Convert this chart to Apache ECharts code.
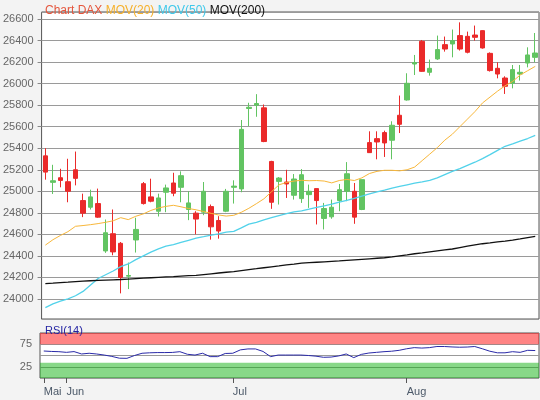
<!DOCTYPE html>
<html>
<head>
<meta charset="utf-8">
<title>Chart DAX</title>
<script src="https://cdn.jsdelivr.net/npm/echarts@6/dist/echarts.min.js"></script>
<style>
  html, body { margin: 0; padding: 0; background: #f3f3f3; }
  #chart { width: 540px; height: 400px; }
</style>
</head>
<body>
<div id="chart"></div>
<script>
// Handelstage 27.05. - 26.08.
const dates = [
  '2026-05-27', '2026-05-28', '2026-05-29',
  '2026-06-01', '2026-06-02', '2026-06-03', '2026-06-04', '2026-06-05',
  '2026-06-08', '2026-06-09', '2026-06-10', '2026-06-11', '2026-06-12',
  '2026-06-15', '2026-06-16', '2026-06-17', '2026-06-18', '2026-06-19',
  '2026-06-22', '2026-06-23', '2026-06-24', '2026-06-25', '2026-06-26',
  '2026-06-29', '2026-06-30',
  '2026-07-01', '2026-07-02', '2026-07-03',
  '2026-07-06', '2026-07-07', '2026-07-08', '2026-07-09', '2026-07-10',
  '2026-07-13', '2026-07-14', '2026-07-15', '2026-07-16', '2026-07-17',
  '2026-07-20', '2026-07-21', '2026-07-22', '2026-07-23', '2026-07-24',
  '2026-07-27', '2026-07-28', '2026-07-29', '2026-07-30', '2026-07-31',
  '2026-08-03', '2026-08-04', '2026-08-05', '2026-08-06', '2026-08-07',
  '2026-08-10', '2026-08-11', '2026-08-12', '2026-08-13', '2026-08-14',
  '2026-08-17', '2026-08-18', '2026-08-19', '2026-08-20', '2026-08-21',
  '2026-08-24', '2026-08-25', '2026-08-26'
];

const openVals = [
  25329, 25083, 25126, 25089, 25200, 24914, 24852, 24886, 24446, 24606,
  24517, 24212, 24548, 25071, 24948, 24815, 24991, 25077, 25037, 24831,
  24797, 24806, 24858, 24729, 24815, 25037, 25022, 25769, 25800, 25775,
  25277, 25092, 25086, 24963, 24932, 24969, 25025, 24748, 24763, 24914,
  25000, 25000, 24831, 25452, 25489, 25545, 25474, 25706, 25848, 26182,
  26393, 26105, 26229, 26362, 26368, 26446, 26439, 26451, 26492, 26281,
  26142, 26052, 26003, 26089, 26191, 26244
];
const closeVals = [
  25178, 25098, 25101, 25000, 25120, 24797, 24948, 24760, 24615, 24437,
  24200, 24218, 24646, 24886, 24908, 24938, 25031, 24982, 25145, 24892,
  24742, 25000, 24670, 24631, 25000, 25048, 25575, 25780, 25815, 25462,
  24898, 25123, 25068, 25114, 25154, 25000, 24914, 24840, 24852, 25015,
  25163, 24760, 25108, 25359, 25458, 25449, 25613, 25622, 26003, 26195,
  26114, 26142, 26316, 26321, 26399, 26321, 26291, 26430, 26331, 26121,
  26089, 25975, 26130, 26105, 26266, 26284
];
const lowVals = [
  25108, 24975, 25037, 24898, 25055, 24760, 24831, 24754, 24428, 24406,
  24052, 24092, 24431, 24877, 24898, 24766, 24806, 24954, 24898, 24732,
  24600, 24778, 24551, 24560, 24806, 24886, 24991, 25606, 25692, 25456,
  24837, 24877, 24938, 24923, 24892, 24846, 24692, 24646, 24745, 24815,
  24908, 24698, 24825, 25356, 25297, 25319, 25297, 25541, 25842, 26080,
  26110, 26074, 26220, 26297, 26244, 26307, 26281, 26399, 26325, 26112,
  26049, 25904, 25956, 26028, 26151, 26198
];
const highVals = [
  25400, 25246, 25209, 25302, 25369, 24978, 25015, 25025, 24738, 24831,
  24529, 24338, 24754, 25086, 25117, 24978, 25062, 25172, 25185, 25000,
  24815, 25086, 24877, 24769, 25022, 25102, 25662, 25822, 25902, 25806,
  25283, 25132, 25200, 25160, 25206, 25062, 25025, 24892, 24923, 25068,
  25271, 25077, 25108, 25557, 25557, 25563, 25650, 25889, 26096, 26266,
  26405, 26223, 26446, 26437, 26502, 26569, 26483, 26539, 26495, 26290,
  26198, 26068, 26173, 26173, 26337, 26470
];

const ma20 = [
  24500, 24550, 24590, 24625, 24675, 24682, 24690, 24700, 24712, 24726,
  24755, 24737, 24768, 24790, 24822, 24845, 24860, 24870, 24856, 24840,
  24828, 24812, 24795, 24780, 24770, 24777, 24805, 24842, 24885, 24930,
  24995, 25060, 25082, 25095, 25102, 25098, 25100, 25095, 25078, 25100,
  25110, 25100, 25125, 25165, 25185, 25195, 25195, 25190, 25200, 25225,
  25285, 25345, 25405, 25475, 25530, 25600, 25670, 25740, 25820, 25875,
  25930, 25980, 26020, 26080, 26120, 26160
];
const ma50 = [
  23920, 23955, 23980, 24000, 24030, 24070, 24130, 24190, 24225, 24260,
  24300, 24325, 24365, 24400, 24435, 24465, 24490, 24505, 24525, 24545,
  24565, 24578, 24592, 24605, 24620, 24628, 24660, 24695, 24712, 24735,
  24755, 24775, 24792, 24808, 24818, 24835, 24850, 24865, 24880, 24900,
  24915, 24935, 24955, 24975, 24995, 25010, 25030, 25045, 25060, 25075,
  25088, 25102, 25125, 25155, 25185, 25210, 25240, 25270, 25304, 25340,
  25380, 25418, 25440, 25465, 25490, 25520
];
const ma200 = [
  24143, 24147, 24152, 24156, 24161, 24166, 24169, 24172, 24175, 24178,
  24181, 24185, 24189, 24193, 24197, 24201, 24205, 24208, 24212, 24216,
  24220, 24227, 24234, 24241, 24248, 24254, 24263, 24272, 24281, 24290,
  24299, 24307, 24316, 24324, 24333, 24337, 24341, 24345, 24349, 24353,
  24358, 24363, 24368, 24373, 24378, 24383, 24391, 24401, 24410, 24420,
  24428, 24437, 24446, 24455, 24464, 24477, 24490, 24503, 24513, 24521,
  24530, 24538, 24547, 24558, 24570, 24582
];
const rsi14 = [
  60, 59, 58.5, 57, 58.7, 53.4, 55, 53.3, 51, 48,
  44, 43.7, 50, 55, 56, 56.5, 56.5, 56.8, 58.5, 52.7,
  51, 55, 47.5, 47.5, 54.5, 55, 62.5, 64.6, 64.6, 59,
  47.5, 51, 51, 51, 51, 50, 48.5, 46, 46.5, 49,
  53.4, 45.3, 52.5, 55.5, 57, 58.5, 59.5, 61.5, 65, 67.5,
  66.5, 67.5, 70, 70, 69, 68.4, 68.8, 70, 65, 59.5,
  56, 56, 58.5, 57, 61.5, 61
];

const monthNames = { '05': 'Mai', '06': 'Jun', '07': 'Jul', '08': 'Aug' };

const candles = dates.map((d, i) => [openVals[i], closeVals[i], lowVals[i], highVals[i]]);
const isMonthStart = (i) => i === 0 || dates[i].slice(5, 7) !== dates[i - 1].slice(5, 7);

const chart = echarts.init(document.getElementById('chart'));
const font = 'Liberation Sans, Arial, sans-serif';

chart.setOption({
  animation: false,
  backgroundColor: '#f3f3f3',
  textStyle: { fontFamily: font },
  title: [
    {
      left: 40,
      top: 0,
      text: '{a|Chart DAX} {b|MOV(20)} {c|MOV(50)} {d|MOV(200)}',
      textStyle: {
        fontSize: 12,
        fontWeight: 'normal',
        fontFamily: font,
        rich: {
          a: { color: '#e5553c', fontSize: 12, fontFamily: font },
          b: { color: '#f5b02a', fontSize: 12, fontFamily: font },
          c: { color: '#3fc8ea', fontSize: 12, fontFamily: font },
          d: { color: '#111', fontSize: 12, fontFamily: font },
        },
      },
    },
    {
      left: 40,
      top: 320,
      text: 'RSI(14)',
      textStyle: { fontSize: 11, fontWeight: 'normal', color: '#2323a3', fontFamily: font },
    },
  ],
  grid: [
    { left: 40, right: 1, top: 12, height: 307, show: true, backgroundColor: '#fff', borderColor: '#555', borderWidth: 1 },
    { left: 40, right: 1, top: 333, height: 45, show: true, backgroundColor: '#fff', borderColor: '#555', borderWidth: 1 },
  ],
  xAxis: [
    {
      type: 'category',
      gridIndex: 0,
      data: dates,
      boundaryGap: true,
      axisLine: { show: false },
      axisTick: { show: false },
      axisLabel: { show: false },
      splitLine: { show: false },
    },
    {
      type: 'category',
      gridIndex: 1,
      data: dates,
      boundaryGap: true,
      axisLine: { show: false },
      axisTick: {
        show: true,
        alignWithLabel: true,
        interval: (i) => isMonthStart(i),
        length: 5,
        lineStyle: { color: '#555' },
      },
      axisLabel: {
        interval: (i) => isMonthStart(i),
        formatter: (v) => monthNames[v.slice(5, 7)],
        align: 'left',
        color: '#4b5868',
        fontSize: 11,
        margin: 8,
      },
      splitLine: { show: false },
    },
  ],
  yAxis: [
    {
      type: 'value',
      gridIndex: 0,
      min: 23814,
      max: 26665,
      splitNumber: 14,
      minInterval: 200,
      maxInterval: 200,
      axisLine: { show: false },
      axisTick: { show: true, length: 4, lineStyle: { color: '#888' } },
      axisLabel: {
        color: '#666',
        fontSize: 11,
        margin: 8,
        showMinLabel: false,
        showMaxLabel: false,
        formatter: (v) => String(v),
      },
      splitLine: { lineStyle: { color: '#9a9a9a' } },
    },
    {
      type: 'value',
      gridIndex: 1,
      min: 0,
      max: 100,
      interval: 25,
      axisLine: { show: false },
      axisTick: { show: false },
      axisLabel: {
        color: '#666',
        fontSize: 11,
        margin: 8,
        formatter: (v) => (v === 25 || v === 75 ? String(v) : ''),
      },
      splitLine: { lineStyle: { color: '#999' } },
    },
  ],
  series: [
    {
      name: 'DAX',
      type: 'candlestick',
      xAxisIndex: 0,
      yAxisIndex: 0,
      data: candles,
      barWidth: 5,
      itemStyle: {
        color: '#62c462',
        color0: '#ea2a2a',
        borderColor: '#62c462',
        borderColor0: '#ea2a2a',
        borderWidth: 1,
      },
    },
    {
      name: 'MOV(20)',
      type: 'line',
      xAxisIndex: 0,
      yAxisIndex: 0,
      data: ma20,
      symbol: 'none',
      lineStyle: { color: '#f8b73a', width: 1 },
    },
    {
      name: 'MOV(50)',
      type: 'line',
      xAxisIndex: 0,
      yAxisIndex: 0,
      data: ma50,
      symbol: 'none',
      lineStyle: { color: '#52d2ea', width: 1.3 },
    },
    {
      name: 'MOV(200)',
      type: 'line',
      xAxisIndex: 0,
      yAxisIndex: 0,
      data: ma200,
      symbol: 'none',
      lineStyle: { color: '#111', width: 1.3 },
    },
    {
      name: 'RSI(14)',
      type: 'line',
      xAxisIndex: 1,
      yAxisIndex: 1,
      data: rsi14,
      symbol: 'none',
      lineStyle: { color: '#2a2aa8', width: 1 },
      markArea: {
        silent: true,
        data: [
          [{ yAxis: 75, itemStyle: { color: 'rgba(255,10,10,0.5)' } }, { yAxis: 100 }],
          [{ yAxis: 0, itemStyle: { color: 'rgba(17,178,17,0.5)' } }, { yAxis: 34 }],
        ],
      },
    },
  ],
});

window.addEventListener('resize', () => {
  chart.resize();
});
</script>
</body>
</html>
